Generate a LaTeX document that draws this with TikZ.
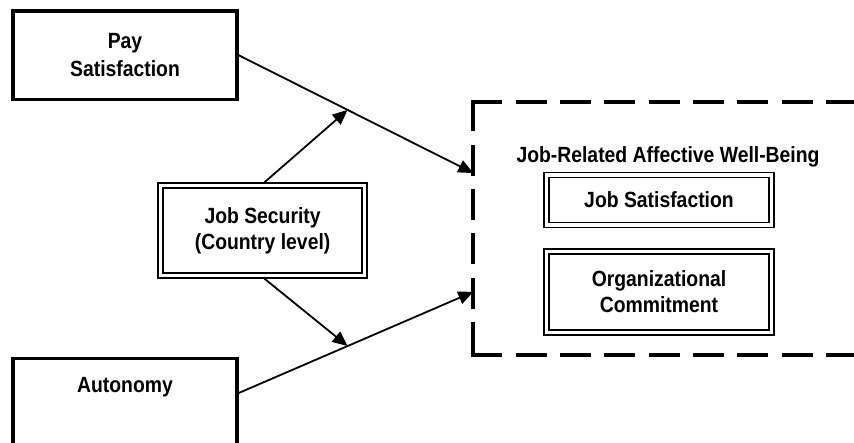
\documentclass[tikz,border=0pt]{standalone}
\usepackage{fontspec}
\setmainfont{Liberation Sans}[FakeStretch=0.88]
\usetikzlibrary{arrows.meta,calc}
\begin{document}
\begin{tikzpicture}[x=1pt,y=-1pt,
  lbl/.style={font=\bfseries\fontsize{22}{26}\selectfont, align=center},
  pbox/.style={draw, line width=3.5pt, minimum width=224pt, minimum height=88.5pt, inner sep=0pt},
  dbox/.style={draw, double, double distance=3.4pt, line width=1.6pt, inner sep=0pt},
  arr/.style={line width=1.8pt, -{Triangle[length=15pt,width=13pt]}},
  dashln/.style={line width=3.7pt, line cap=rect, dash pattern=on 27.3pt off 17.04pt}]
\useasboundingbox (0,0) rectangle (854,443);
\clip (0,0) rectangle (854,443);
% left boxes
\node[pbox, lbl, font=\bfseries\fontsize{22}{28}\selectfont] (pay) at (125,55.25) {Pay\\Satisfaction};
\node[pbox, minimum height=120pt, anchor=north] (auto) at (125,356.7) {};
\node[lbl, anchor=base] (autotxt) at (125,393) {Autonomy};
% moderator
\node[dbox, lbl, minimum width=204pt, minimum height=90pt] (sec) at (262.6,230.5) {Job Security\\(Country level)};
% outcome group
\coordinate (wbtl) at (473.3,102.3);
\coordinate (wbbl) at (473.3,355);
\coordinate (wbtr) at (900,102.3);
\coordinate (wbbr) at (900,355);
\draw[dashln] (wbtl) -- (wbtr);
\draw[dashln] (wbtl) -- (wbbl);
\draw[dashln] (wbbl) -- (wbbr);
\node[lbl, anchor=base] (title) at (668,163) {Job-Related Affective Well-Being};
\node[dbox, lbl, minimum width=225.5pt, minimum height=50pt] (js) at (659,200) {Job Satisfaction};
\node[dbox, lbl, minimum width=225.5pt, minimum height=81pt] (oc) at (659,292) {Organizational\\Commitment};
% connectors
\coordinate (t1) at ($(wbtl)!0.28!(wbbl)$);
\coordinate (t2) at ($(wbtl)!0.75!(wbbl)$);
\coordinate (a1) at ($(auto.north east)+(0,36.3)$);
\coordinate (m1) at ($(pay.east)!0.464!(t1)$);
\coordinate (m2) at ($(a1)!0.464!(t2)$);
\draw[arr] (pay.east) -- (t1);
\draw[arr] (a1) -- (t2);
\draw[arr] ([xshift=2pt,yshift=2.5pt]sec.north) -- (m1);
\draw[arr] ([xshift=2pt,yshift=-2.5pt]sec.south) -- (m2);
\end{tikzpicture}
\end{document}
